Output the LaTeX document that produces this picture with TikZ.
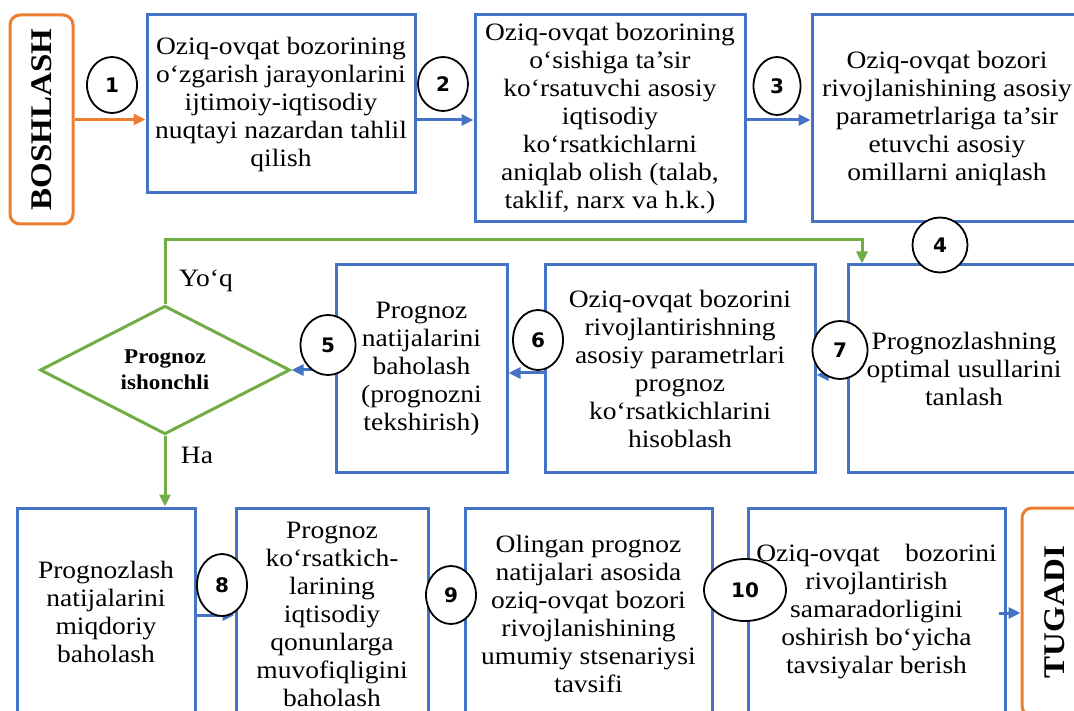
\documentclass[tikz,border=0pt]{standalone}
\usepackage{fontspec}
\setmainfont{Liberation Serif}[FakeStretch=1.1]
\newfontfamily\numfont{DejaVu Sans}
\usetikzlibrary{shapes.geometric,arrows.meta}

\definecolor{boxblue}{RGB}{68,114,196}
\definecolor{termorange}{RGB}{237,125,49}
\definecolor{decgreen}{RGB}{112,173,71}

\tikzset{
  procbox/.style={draw=boxblue, line width=3pt, align=center, inner sep=2pt,
    font=\fontsize{25}{28}\selectfont},
  termbox/.style={draw=termorange, line width=3pt, rounded corners=10pt, rotate=90,
    font=\fontsize{30}{32}\selectfont\bfseries},
  numcirc/.style={ellipse, draw=black, line width=1.8pt, fill=white, inner sep=0pt,
    font=\numfont\fontsize{20}{20}\selectfont\bfseries},
  decision/.style={diamond, draw=decgreen, line width=3pt, inner sep=0pt, align=center,
    font=\fontsize{21}{26}\selectfont\bfseries},
  lbl/.style={font=\fontsize{25}{28}\selectfont},
  barr/.style={draw=boxblue, line width=3pt, -{Triangle[length=12pt,width=11pt]}},
  oarr/.style={draw=termorange, line width=3pt, -{Triangle[length=12pt,width=11pt]}},
  garr/.style={draw=decgreen, line width=3pt, -{Triangle[length=12pt,width=11pt]}}
}

\begin{document}
\begin{tikzpicture}[x=1pt, y=-1pt]
        \clip (0,0) rectangle (1074,711);

        % Start and end
        \node[termbox, minimum width=209pt, minimum height=63pt] (start) at (41.5,119.5) {BOSHLASH};
        \node[termbox, minimum width=208pt, minimum height=66pt] (end) at (1055,612) {TUGADI};

        % Top row
        \node[procbox, minimum width=268pt, minimum height=178pt] (box1) at (281,104)
          {Oziq-ovqat bozorining\\ o‘zgarish jarayonlarini\\ ijtimoiy-iqtisodiy\\ nuqtayi nazardan tahlil\\ qilish};
        \node[procbox, minimum width=270pt, minimum height=207pt] (box2) at (610,118.5)
          {Oziq-ovqat bozorining\\ o‘sishiga ta’sir\\ ko‘rsatuvchi asosiy\\ iqtisodiy\\ ko‘rsatkichlarni\\ aniqlab olish (talab,\\ taklif, narx va h.k.)};
        \node[procbox, minimum width=270pt, minimum height=207pt] (box3) at (947,118.5)
          {Oziq-ovqat bozori\\ rivojlanishining asosiy\\ parametrlariga ta’sir\\ etuvchi asosiy\\ omillarni aniqlash};

        % Middle row
        \node[procbox, minimum width=232pt, minimum height=207pt] (box7) at (964,368.5)
          {Prognozlashning\\ optimal usullarini\\ tanlash};
        \node[procbox, minimum width=270pt, minimum height=207pt] (box6) at (680,368.5)
          {Oziq-ovqat bozorini\\ rivojlantirishning\\ asosiy parametrlari\\ prognoz\\ ko‘rsatkichlarini\\ hisoblash};
        \node[procbox, minimum width=171pt, minimum height=207pt] (box5) at (421.5,368.5)
          {Prognoz\\ natijalarini\\ baholash\\ (prognozni\\ tekshirish)};
        \node[decision, minimum width=250pt, minimum height=117pt] (dec) at (165,370)
          {Prognoz\\ ishonchli};
        \node[lbl] (no) at (206,281) {Yo‘q};
        \node[lbl] (yes) at (197,455) {Ha};

        % Bottom row
        \node[procbox, minimum width=178pt, minimum height=208pt] (box8) at (106,612)
          {Prognozlash\\ natijalarini\\ miqdoriy\\ baholash};
        \node[procbox, minimum width=192pt, minimum height=212pt] (box9) at (332,614)
          {Prognoz\\ ko‘rsatkich-\\ larining\\ iqtisodiy\\ qonunlarga\\ muvofiqligini\\ baholash};
        \node[procbox, minimum width=247pt, minimum height=212pt] (box10) at (588.5,614)
          {Olingan prognoz\\ natijalari asosida\\ oziq-ovqat bozori\\ rivojlanishining\\ umumiy stsenariysi\\ tavsifi};
        \node[procbox, minimum width=257pt, minimum height=208pt] (box11) at (876.5,612)
          {Oziq-ovqat\quad bozorini\\ rivojlantirish\\ samaradorligini\\ oshirish bo‘yicha\\ tavsiyalar berish};

        % Connectors
        \draw[oarr] (start.south) -- (start.south -| box1.west);
        \draw[barr] ([yshift=-16pt]box1.east) -- ([yshift=-1.5pt]box2.west);
        \draw[barr] ([yshift=-1.5pt]box2.east) -- ([yshift=-1.5pt]box3.west);
        \draw[barr] ([yshift=-6.5pt]box7.west) -- ([yshift=-6.5pt]box6.east);
        \draw[barr] ([yshift=-4.5pt]box6.west) -- ([yshift=-4.5pt]box5.east);
        \draw[barr] ([yshift=-1.5pt]box5.west) -- (dec.east);
        \coordinate (g7) at ([xshift=-102pt]box7.north);
        \draw[garr] (dec.north) |- ([yshift=24pt]g7) -- (g7);
        \draw[garr] (dec.south) -- (dec.south |- box8.north);
        \draw[barr] ([yshift=-3pt]box8.east) -- ([yshift=-1pt]box9.west);
        \draw[barr] ([yshift=19pt]box9.east) -- ([yshift=19pt]box10.west);
        \draw[barr] ([yshift=24pt]box10.east) -- ([yshift=22pt]box11.west);
        \draw[barr] ([xshift=-8pt,yshift=-1pt]box11.east) -- ([yshift=-1pt]end.north);

        % Step numbers
        \node[numcirc, minimum width=50pt, minimum height=56pt] (n1) at (112,85) {1};
        \node[numcirc, minimum width=50pt, minimum height=54pt] (n2) at (443,84) {2};
        \node[numcirc, minimum width=47pt, minimum height=58pt] (n3) at (777,86) {3};
        \node[numcirc, minimum width=55pt, minimum height=55pt] (n4) at (940,245) {4};
        \node[numcirc, minimum width=55pt, minimum height=60pt] (n5) at (328,345) {5};
        \node[numcirc, minimum width=50pt, minimum height=60pt] (n6) at (538,340) {6};
        \node[numcirc, minimum width=55pt, minimum height=58pt] (n7) at (840,350) {7};
        \node[numcirc, minimum width=50pt, minimum height=62pt] (n8) at (222,585) {8};
        \node[numcirc, minimum width=50pt, minimum height=58pt] (n9) at (451,595) {9};
        \node[numcirc, minimum width=82pt, minimum height=62pt] (n10) at (745,590) {10};
\end{tikzpicture}
\end{document}
